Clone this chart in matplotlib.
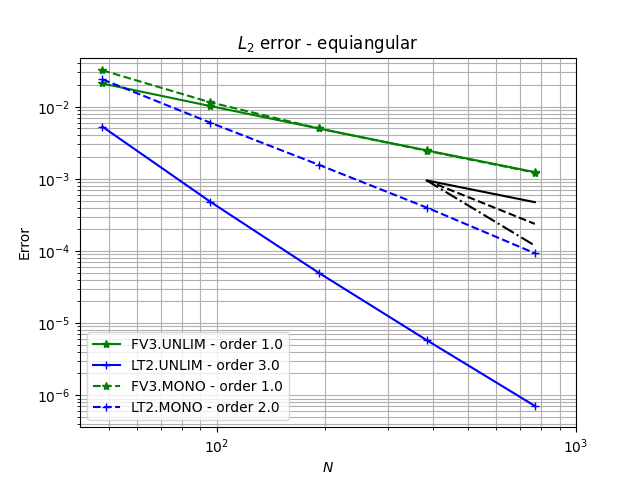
import matplotlib
matplotlib.use('Agg')
import matplotlib.pyplot as plt

N = [48, 96, 192, 384, 768]

fv3_unlim = [2.1e-2, 1.02e-2, 5.0e-3, 2.48e-3, 1.24e-3]
lt2_unlim = [5.3e-3, 4.8e-4, 5.0e-5, 5.8e-6, 7.1e-7]
fv3_mono = [3.2e-2, 1.15e-2, 5.0e-3, 2.45e-3, 1.22e-3]
lt2_mono = [2.4e-2, 6.0e-3, 1.57e-3, 4.0e-4, 9.3e-5]

# reference slopes, starting at N=384
ref_N = [384, 768]
ref_start = 9.5e-4
ref_orders = [1, 2, 3]
ref_styles = ['-', '--', '-.']

fig, ax = plt.subplots(figsize=(6.4, 4.8), dpi=100)

ax.loglog(N, fv3_unlim, 'g-*', label='FV3.UNLIM - order 1.0')
ax.loglog(N, lt2_unlim, 'b-+', label='LT2.UNLIM - order 3.0')
ax.loglog(N, fv3_mono, 'g--*', label='FV3.MONO - order 1.0')
ax.loglog(N, lt2_mono, 'b--+', label='LT2.MONO - order 2.0')

for order, ls in zip(ref_orders, ref_styles):
    ax.loglog(ref_N, [ref_start, ref_start * (ref_N[0] / ref_N[1]) ** order], color='black', linestyle=ls)

ax.set_xlim(41.6, 1000)
ax.set_ylim(3.6e-7, 4.8e-2)
ax.grid(True, which='both')
ax.set_xlabel('$N$')
ax.set_ylabel('Error')
ax.set_title('$L_2$ error - equiangular')
ax.legend(loc='lower left')

fig.savefig('out.png')
